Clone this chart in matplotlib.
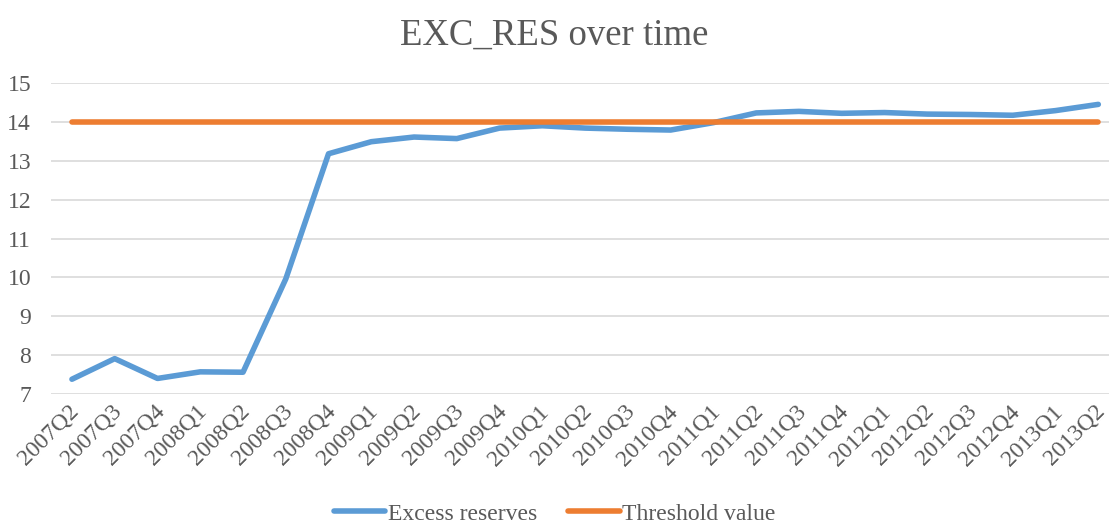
import matplotlib.pyplot as plt
import matplotlib.transforms as mtransforms

quarters = ['2007Q2', '2007Q3', '2007Q4', '2008Q1', '2008Q2', '2008Q3', '2008Q4',
            '2009Q1', '2009Q2', '2009Q3', '2009Q4', '2010Q1', '2010Q2', '2010Q3',
            '2010Q4', '2011Q1', '2011Q2', '2011Q3', '2011Q4', '2012Q1', '2012Q2',
            '2012Q3', '2012Q4', '2013Q1', '2013Q2']
excess_reserves = [7.38, 7.91, 7.40, 7.57, 7.56, 9.96, 13.18, 13.49, 13.61, 13.57,
                   13.84, 13.90, 13.84, 13.81, 13.79, 13.98, 14.23, 14.27, 14.22,
                   14.24, 14.20, 14.19, 14.17, 14.29, 14.45]
threshold = [14.0] * len(quarters)

plt.rcParams['font.family'] = ['Liberation Serif', 'DejaVu Serif']
text_col = '#595959'

fig = plt.figure(figsize=(11.09, 5.30), dpi=100)
ax = fig.add_axes([0.0456, 0.2566, 0.9544, 0.5868])

x = list(range(len(quarters)))
ax.plot(x, excess_reserves, color='#5B9BD5', linewidth=4, solid_capstyle='round',
        solid_joinstyle='round', label='Excess reserves', zorder=3)
ax.plot(x, threshold, color='#ED7D31', linewidth=4, solid_capstyle='round',
        label='Threshold value', zorder=3)

ax.set_ylim(7, 15)
ax.set_xlim(-0.5, 24.25)
ax.set_yticks(range(7, 16))
ax.set_xticks(x)
ax.set_xticklabels(quarters, rotation=45, ha='right', rotation_mode='anchor')
ax.tick_params(axis='both', length=0, labelsize=17, colors=text_col)
ax.tick_params(axis='x', pad=5)
ax.tick_params(axis='y', pad=14)
ax.grid(axis='y', color='#D9D9D9', linewidth=1.2, zorder=0)
for s in ax.spines.values():
    s.set_visible(False)

# nudge rotated labels a touch left so the last one stays inside the figure
shift = mtransforms.ScaledTranslation(-4 / 100, 0, fig.dpi_scale_trans)
for lbl in ax.get_xticklabels():
    lbl.set_transform(lbl.get_transform() + shift)

fig.suptitle('EXC_RES over time', fontsize=26.5, color=text_col, y=0.965)

leg = fig.legend(loc='lower center', bbox_to_anchor=(0.5, -0.03), ncol=2, frameon=False,
                 fontsize=17, handlelength=2.2, handletextpad=0.1, columnspacing=1.3)
for t in leg.get_texts():
    t.set_color(text_col)

fig.savefig('out.png', dpi=100)
